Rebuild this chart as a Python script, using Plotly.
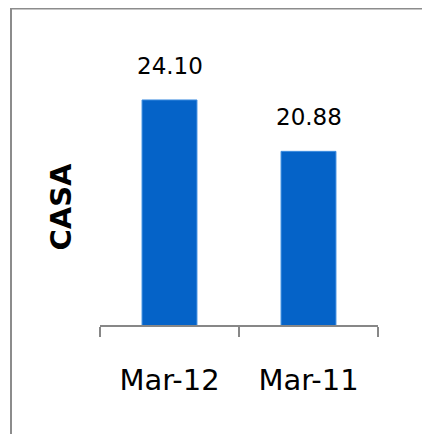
"""CASA ratio — Mar-12 vs Mar-11 single-series bar chart."""
import plotly.graph_objects as go

PERIODS = ["Mar-12", "Mar-11"]
CASA = [24.10, 20.88]

BAR_COLOR = "#0563C8"
AXIS_GREY = "#878787"
FONT = "DejaVu Sans"

# page body adds an 8px margin, so the figure is shrunk and positions shifted
OFF = 8
W, H = 430 - OFF, 434 - OFF

# plot area in reference pixels
PX_LEFT, PX_RIGHT, PX_TOP, PX_BOTTOM = 100, 378, 40, 325
L = PX_LEFT - OFF
R = W - (PX_RIGHT - OFF)
T = PX_TOP - OFF
B = H - (PX_BOTTOM - OFF)
PLOT_W = PX_RIGHT - PX_LEFT
PLOT_H = PX_BOTTOM - PX_TOP
Y_MIN = 10
PX_PER_UNIT = 15.96
Y_MAX = Y_MIN + PLOT_H / PX_PER_UNIT


def px_to_paper_x(px):
    return (px - PX_LEFT) / PLOT_W


def px_to_paper_y(py):
    return (PX_BOTTOM - py) / PLOT_H


fig = go.Figure()
fig.add_trace(go.Bar(
    x=PERIODS, y=CASA,
    marker=dict(color=BAR_COLOR, line=dict(color="#3F8EE0", width=1)),
    width=0.395,
    hoverinfo="x+y",
))

# value labels above bars
for cat, val in zip(PERIODS, CASA):
    fig.add_annotation(
        x=cat, y=val, text=f"{val:.2f}",
        showarrow=False, yanchor="bottom", yshift=19,
        font=dict(family=FONT, size=23, color="black"),
    )

# rotated axis title
fig.add_annotation(
    xref="paper", yref="paper",
    x=px_to_paper_x(60), y=px_to_paper_y(206.5),
    text="<b>CASA</b>", textangle=-90, showarrow=False,
    xanchor="center", yanchor="middle",
    font=dict(family=FONT, size=29, color="black"),
)

# outer chart border (runs off right and bottom edges)
fig.add_shape(
    type="rect", xref="paper", yref="paper",
    x0=px_to_paper_x(11), x1=px_to_paper_x(445),
    y0=px_to_paper_y(450), y1=px_to_paper_y(8.5),
    line=dict(color="#8C8C8C", width=2),
)

fig.update_layout(
    width=W, height=H,
    margin=dict(l=L, r=R, t=T, b=B, pad=0),
    plot_bgcolor="white", paper_bgcolor="white",
    showlegend=False,
    font=dict(family=FONT, color="black"),
)
fig.update_xaxes(
    type="category", range=[-0.5, 1.5],
    showline=True, linecolor=AXIS_GREY, linewidth=2,
    ticks="outside", tickson="boundaries", ticklen=10, tickwidth=2, tickcolor=AXIS_GREY,
    tickfont=dict(family=FONT, size=29, color="black"),
    ticklabelstandoff=28,
    showgrid=False, zeroline=False,
)
fig.update_yaxes(
    range=[Y_MIN, Y_MAX], visible=False, showgrid=False, zeroline=False,
)

fig.write_html("out.html")
